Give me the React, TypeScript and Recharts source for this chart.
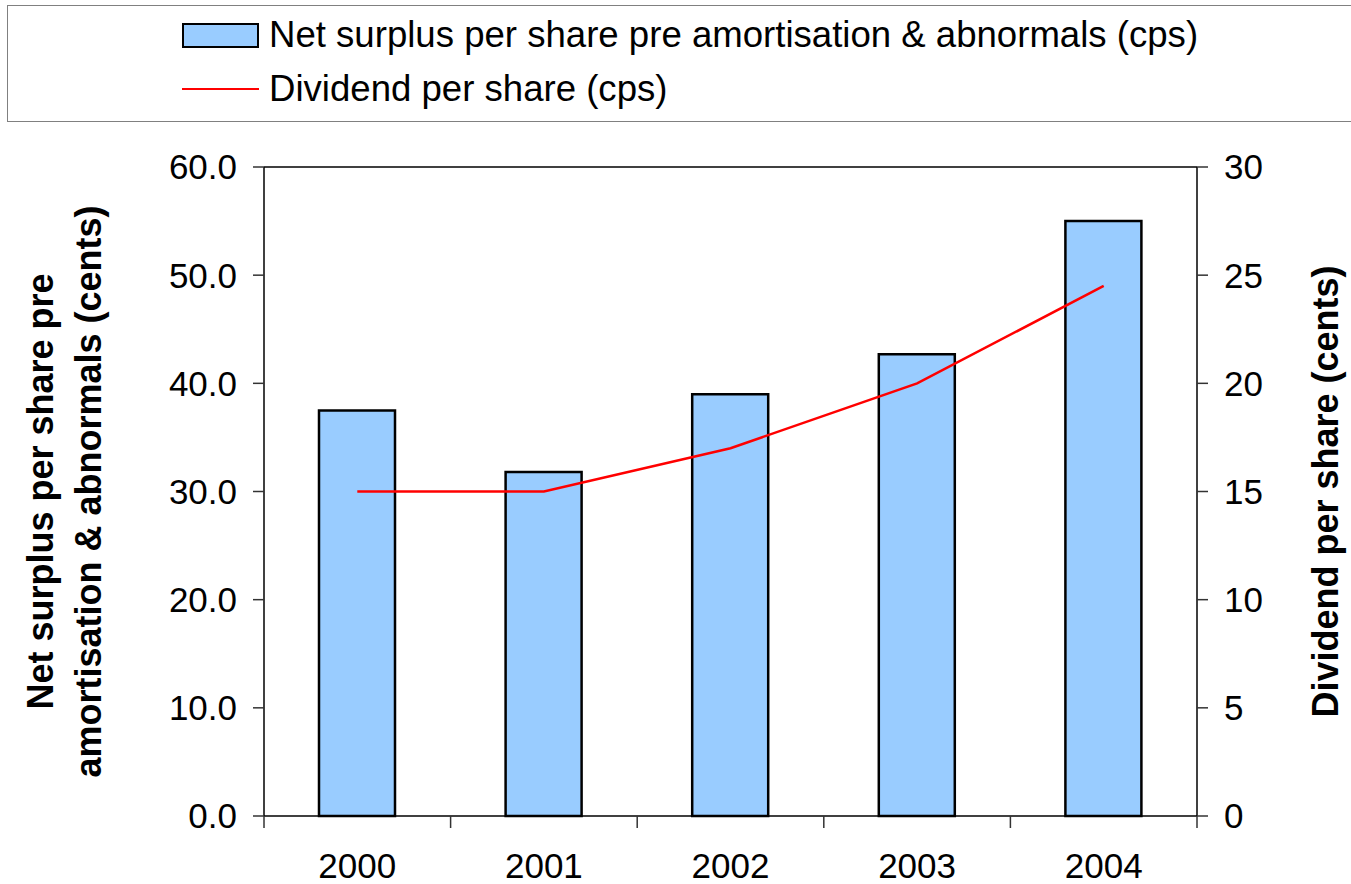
import React from 'react';
import { ComposedChart, Bar, Line, XAxis, YAxis, Legend, ReferenceLine } from 'recharts';

// Chart data
const years = ['2000', '2001', '2002', '2003', '2004'];
const surplusPerShare = [37.5, 31.8, 39.0, 42.7, 55.0];
const dividendPerShare = [15, 15, 17, 20, 24.5];
const leftTicks = [0, 10, 20, 30, 40, 50, 60];
const rightTicks = [0, 5, 10, 15, 20, 25, 30];

const data = years.map((year, i) => ({
  year,
  surplus: surplusPerShare[i],
  dividend: dividendPerShare[i],
}));

const FONT = '"Liberation Sans", Arial, sans-serif';
const CHART_W = 1351;
const CHART_H = 884;
const LEFT_W = 264;
const RIGHT_W = 154;
const TOP = 167;
const X_H = 68;
const BAND = (CHART_W - LEFT_W - RIGHT_W) / years.length;
const X_TICK_SIZE = 12;
const X_TICK_MARGIN = 25;

const XTick = (props: any) => {
  const { x, y, payload, index } = props;
  const axisY = y - X_TICK_SIZE - X_TICK_MARGIN;
  const left = x - BAND / 2;
  const right = x + BAND / 2;
  return (
    <g>
      <line x1={left} x2={left} y1={axisY} y2={axisY + X_TICK_SIZE} stroke="#333" strokeWidth={1.5} />
      {index === years.length - 1 && (
        <line x1={right} x2={right} y1={axisY} y2={axisY + X_TICK_SIZE} stroke="#333" strokeWidth={1.5} />
      )}
      <text x={x} y={y} dy="0.71em" textAnchor="middle" fontSize={35} fontFamily={FONT} fill="#000">
        {payload.value}
      </text>
    </g>
  );
};

const LeftTitle = (props: any) => {
  const { viewBox } = props;
  const cy = viewBox.y + viewBox.height / 2;
  const lines = [
    { text: 'Net surplus per share pre', x: 40 },
    { text: 'amortisation & abnormals (cents)', x: 88 },
  ];
  return (
    <g>
      {lines.map((l) => (
        <text
          key={l.text}
          x={l.x}
          y={cy}
          transform={`rotate(-90, ${l.x}, ${cy})`}
          textAnchor="middle"
          dominantBaseline="central"
          fontSize={36}
          fontWeight="bold"
          fontFamily={FONT}
          fill="#000"
        >
          {l.text}
        </text>
      ))}
    </g>
  );
};

const RightTitle = (props: any) => {
  const { viewBox } = props;
  const cx = viewBox.x + 128;
  const cy = viewBox.y + viewBox.height / 2;
  return (
    <text
      x={cx}
      y={cy}
      transform={`rotate(-90, ${cx}, ${cy})`}
      textAnchor="middle"
      dominantBaseline="central"
      fontSize={36}
      fontWeight="bold"
      fontFamily={FONT}
      fill="#000"
    >
      Dividend per share (cents)
    </text>
  );
};

const LegendBox = (props: any) => {
  // bar entry first, then the line
  const items = [...(props.payload || [])].sort((a: any, b: any) =>
    a.type === 'line' ? 1 : b.type === 'line' ? -1 : 0
  );
  return (
    <div
      style={{
        width: 1360,
        height: 117,
        border: '1.5px solid #808080',
        boxSizing: 'border-box',
        fontFamily: FONT,
        fontSize: 36.6,
        color: '#000',
        paddingTop: 7,
      }}
    >
      {items.map((entry: any) => (
        <div key={entry.value} style={{ display: 'flex', alignItems: 'center', height: 44, marginBottom: 10 }}>
          <div style={{ width: 174 }} />
          {entry.type === 'line' ? (
            <div style={{ width: 77, height: 0, borderTop: '2.5px solid #FF0000', marginRight: 10 }} />
          ) : (
            <div
              style={{
                width: 77,
                height: 25,
                background: '#99CCFF',
                border: '2.5px solid #000',
                boxSizing: 'border-box',
                marginRight: 10,
              }}
            />
          )}
          <span style={{ lineHeight: '44px' }}>{entry.value}</span>
        </div>
      ))}
    </div>
  );
};

export default function App() {
  return (
    <div style={{ position: 'absolute', left: 0, top: 0, width: CHART_W, height: CHART_H, background: '#fff' }}>
      <ComposedChart
        width={CHART_W}
        height={CHART_H}
        data={data}
        margin={{ top: TOP, right: 0, bottom: 0, left: 0 }}
      >
        <XAxis
          dataKey="year"
          height={X_H}
          tickLine={false}
          tickSize={X_TICK_SIZE}
          tickMargin={X_TICK_MARGIN}
          axisLine={{ stroke: '#000', strokeWidth: 1.5 }}
          tick={<XTick />}
          interval={0}
        />
        <YAxis
          yAxisId="left"
          orientation="left"
          width={LEFT_W}
          domain={[0, 60]}
          ticks={leftTicks}
          tickFormatter={(v: number) => v.toFixed(1)}
          tickSize={11}
          tickMargin={16}
          tick={{ fontSize: 35, fontFamily: FONT, fill: '#000' }}
          tickLine={{ stroke: '#333', strokeWidth: 1.5 }}
          axisLine={{ stroke: '#000', strokeWidth: 1.5 }}
          label={<LeftTitle />}
        />
        <YAxis
          yAxisId="right"
          orientation="right"
          width={RIGHT_W}
          domain={[0, 30]}
          ticks={rightTicks}
          tickSize={11}
          tickMargin={16}
          tick={{ fontSize: 35, fontFamily: FONT, fill: '#000' }}
          tickLine={{ stroke: '#333', strokeWidth: 1.5 }}
          axisLine={{ stroke: '#000', strokeWidth: 1.5 }}
          label={<RightTitle />}
        />
        <ReferenceLine yAxisId="left" y={60} stroke="#000" strokeWidth={1.5} />
        <Legend
          layout="horizontal"
          verticalAlign="middle"
          align="center"
          content={<LegendBox />}
          wrapperStyle={{ position: 'absolute', top: 5, left: 7, width: 1360, height: 117 }}
        />
        <Bar
          yAxisId="left"
          dataKey="surplus"
          name="Net surplus per share pre amortisation & abnormals (cps)"
          fill="#99CCFF"
          stroke="#000"
          strokeWidth={2.5}
          barSize={76}
          legendType="rect"
          isAnimationActive={false}
        />
        <Line
          yAxisId="right"
          dataKey="dividend"
          name="Dividend per share (cps)"
          type="linear"
          stroke="#FF0000"
          strokeWidth={2.5}
          dot={false}
          activeDot={false}
          legendType="line"
          isAnimationActive={false}
        />
      </ComposedChart>
    </div>
  );
}
